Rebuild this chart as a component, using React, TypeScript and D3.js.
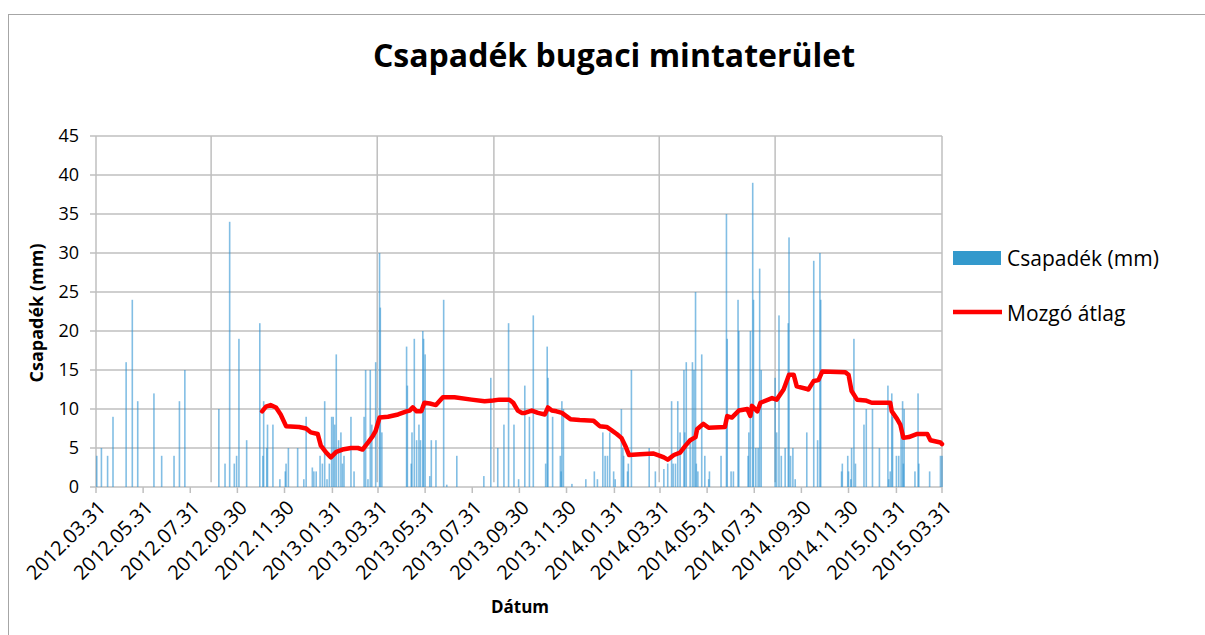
import React from "react";
import * as d3 from "d3";

// Series start: 2012.03.31 ; rain days are given as day offsets from the start
const startDate = "2012-03-31";
const endDate = "2015-03-31";

const rainDay = [1,7,15,22,39,47,54,75,85,101,108,115,159,167,173,179,182,185,195,212,216,217,221,222,229,238,245,246,249,261,269,272,280,282,285,290,293,296,299,302,305,307,309,311,314,317,319,321,330,334,347,349,352,355,357,362,367,368,370,402,403,408,409,412,415,418,420,423,424,426,432,434,440,450,454,467,502,511,520,528,534,541,547,555,561,566,582,584,585,591,601,602,603,605,616,634,645,649,656,659,662,665,670,672,680,682,683,688,689,693,716,724,735,740,745,747,750,753,756,761,762,764,769,772,774,776,777,779,784,788,793,794,809,816,817,822,825,831,832,844,845,847,850,851,854,857,859,861,879,881,884,887,892,896,897,899,902,905,920,929,934,937,938,965,966,973,974,977,978,981,983,994,997,1005,1014,1025,1026,1028,1030,1031,1036,1039,1042,1044,1045,1046,1060,1064,1065,1079,1093,1095];
const rainMm = [4,5,4,9,16,24,11,12,4,4,11,15,10,3,34,3,4,19,6,21,4,11,5,8,8,1,2,3,5,5,1,9,2.5,2,2,4,3,11,1,3,9,9,8,17,6,7,3,4,9,2,9,15,1,15,8,16,30,23,7,18,13,3,7,19,6,8,6,20,19,17,1.4,6,6,24,0.3,4,1.4,14,5,8,21,8,1,13,9,22,3,18,14,9,4,2,11,10,0.4,1,2,1,7,4,4,7,2,1,10,5,4,2,3,15,5,2,2.3,3,11,3,3,11,7,15,7,16,5.6,16,15,25,3,2,17,4,1,2,4,35,19,2,2,24,20,4,7,20,39,24,5,5,28,15,14,7,22,4,5,21,32,4,5,1,7,29,6,30,24,2,3,4,2,1,5,19,3,8,10,10,5,13,1,2,12,9,4,4,7,11,3,10,2,12,3,2,4,4];

// Moving average (Mozgó átlag), day offsets and values
const avgDay = [215,220,226,233,239,246,263,272,278,287,291,298,304,311,319,330,339,345,352,358,362,367,378,391,402,406,410,415,421,425,432,440,449,464,486,503,514,522,535,540,546,551,555,564,572,581,585,590,596,603,614,626,644,652,661,667,674,680,685,690,704,721,730,735,740,748,756,763,769,776,778,786,793,814,817,823,832,843,847,849,856,860,875,881,890,897,903,907,919,922,929,935,940,970,974,978,985,996,1004,1028,1030,1037,1041,1045,1052,1063,1076,1080,1093,1095];
const avgMm = [9.7,10.3,10.5,10.2,9.3,7.8,7.7,7.5,7.0,6.8,5.3,4.4,3.8,4.5,4.8,5.0,5.0,4.8,5.7,6.5,7.2,8.9,9.0,9.3,9.7,9.8,10.2,9.7,9.7,10.8,10.7,10.5,11.5,11.5,11.2,11.0,11.1,11.2,11.2,10.8,9.8,9.5,9.5,9.8,9.5,9.3,10.2,9.8,9.7,9.5,8.7,8.6,8.5,7.8,7.7,7.3,6.8,6.3,5.3,4.1,4.2,4.3,4.0,3.8,3.5,4.1,4.4,5.3,6.0,6.4,7.4,8.1,7.6,7.7,9.1,8.9,9.8,10.0,9.1,10.4,9.7,10.8,11.4,11.2,12.5,14.4,14.4,12.9,12.6,12.5,13.6,13.7,14.8,14.7,14.4,12.3,11.2,11.1,10.8,10.8,9.7,8.7,8.0,6.3,6.4,6.8,6.8,6.0,5.7,5.5];

// Gray vertical marker lines (day offsets)
const markerDay = [149, 364, 515, 729, 879, 1095];

const tickDates = ["2012-03-31","2012-05-31","2012-07-31","2012-09-30","2012-11-30","2013-01-31","2013-03-31","2013-05-31","2013-07-31","2013-09-30","2013-11-30","2014-01-31","2014-03-31","2014-05-31","2014-07-31","2014-09-30","2014-11-30","2015-01-31","2015-03-31"];
const yTicks = [0,5,10,15,20,25,30,35,40,45];

const parse = d3.timeParse("%Y-%m-%d");
const fmt = d3.timeFormat("%Y.%m.%d");
const font = "'Open Sans', 'Liberation Sans', sans-serif";

export default function App() {
  const W = 1205, H = 635;
  const left = 96, right = 942, top = 136, bottom = 487;
  const t0 = parse(startDate)!;
  const t1 = parse(endDate)!;
  const x = d3.scaleTime().domain([t0, t1]).range([left, right]);
  const y = d3.scaleLinear().domain([0, 45]).range([bottom, top]);
  const dayDate = (d: number) => d3.timeDay.offset(t0, d);

  const lineGen = d3.line<number>()
    .x((_, i) => x(dayDate(avgDay[i])))
    .y((v) => y(v))
    .curve(d3.curveLinear);

  const grid = "#BFBFBF";

  return (
    <svg width={W} height={H} style={{ position: "absolute", left: 0, top: 0, background: "#fff" }} fontFamily={font}>
      <rect x={8.5} y={14.5} width={1200} height={640} fill="#fff" stroke="#A6A6A6" strokeWidth={1} />
      <text x={614} y={67} textAnchor="middle" fontSize={32} fontWeight="bold" fill="#000">Csapadék bugaci mintaterület</text>

      {/* horizontal gridlines + y ticks */}
      {yTicks.map((t) => (
        <g key={t}>
          <line x1={left - 6} x2={right} y1={y(t)} y2={y(t)} stroke={grid} strokeWidth={1.5} />
          <text x={79} y={y(t)} dy="0.35em" textAnchor="end" fontSize={18} fill="#000">{t}</text>
        </g>
      ))}
      <line x1={left} x2={left} y1={top} y2={bottom} stroke={grid} strokeWidth={1.5} />

      {/* marker verticals */}
      {markerDay.map((d) => (
        <line key={d} x1={x(dayDate(d))} x2={x(dayDate(d))} y1={top} y2={d === 1095 ? bottom : y(0.6)} stroke={grid} strokeWidth={1.5} />
      ))}

      {/* bars */}
      {rainDay.map((d, i) => {
        const cx = x(dayDate(d));
        return (
          <rect key={i} x={cx - 0.8} width={1.6} y={y(rainMm[i])} height={y(0) - y(rainMm[i])} fill="#2F93D2" fillOpacity={0.6} />
        );
      })}

      {/* x axis ticks and labels */}
      {tickDates.map((s) => {
        const tx = x(parse(s)!);
        return (
          <g key={s}>
            <line x1={tx} x2={tx} y1={bottom} y2={bottom + 6} stroke={grid} strokeWidth={1.5} />
            <text transform={`translate(${tx + 6},${bottom + 17}) rotate(-45)`} textAnchor="end" dy="0.35em" fontSize={20} fill="#000">{fmt(parse(s)!)}</text>
          </g>
        );
      })}

      {/* moving average */}
      <path d={lineGen(avgMm) || ""} fill="none" stroke="#FF0000" strokeWidth={4.5} strokeLinejoin="round" strokeLinecap="round" />

      {/* axis titles */}
      <text x={520} y={613} textAnchor="middle" fontSize={17} fontWeight="bold" fill="#000">Dátum</text>
      <text transform={`translate(43,313) rotate(-90)`} textAnchor="middle" fontSize={18} fontWeight="bold" fill="#000">Csapadék (mm)</text>

      {/* legend */}
      <rect x={953} y={251} width={48} height={14} fill="#3399CC" />
      <text x={1007} y={266} fontSize={21} fill="#000">Csapadék (mm)</text>
      <line x1={953} x2={1002} y1={312} y2={312} stroke="#FF0000" strokeWidth={4.5} />
      <text x={1007} y={321} fontSize={21} fill="#000">Mozgó átlag</text>
    </svg>
  );
}
